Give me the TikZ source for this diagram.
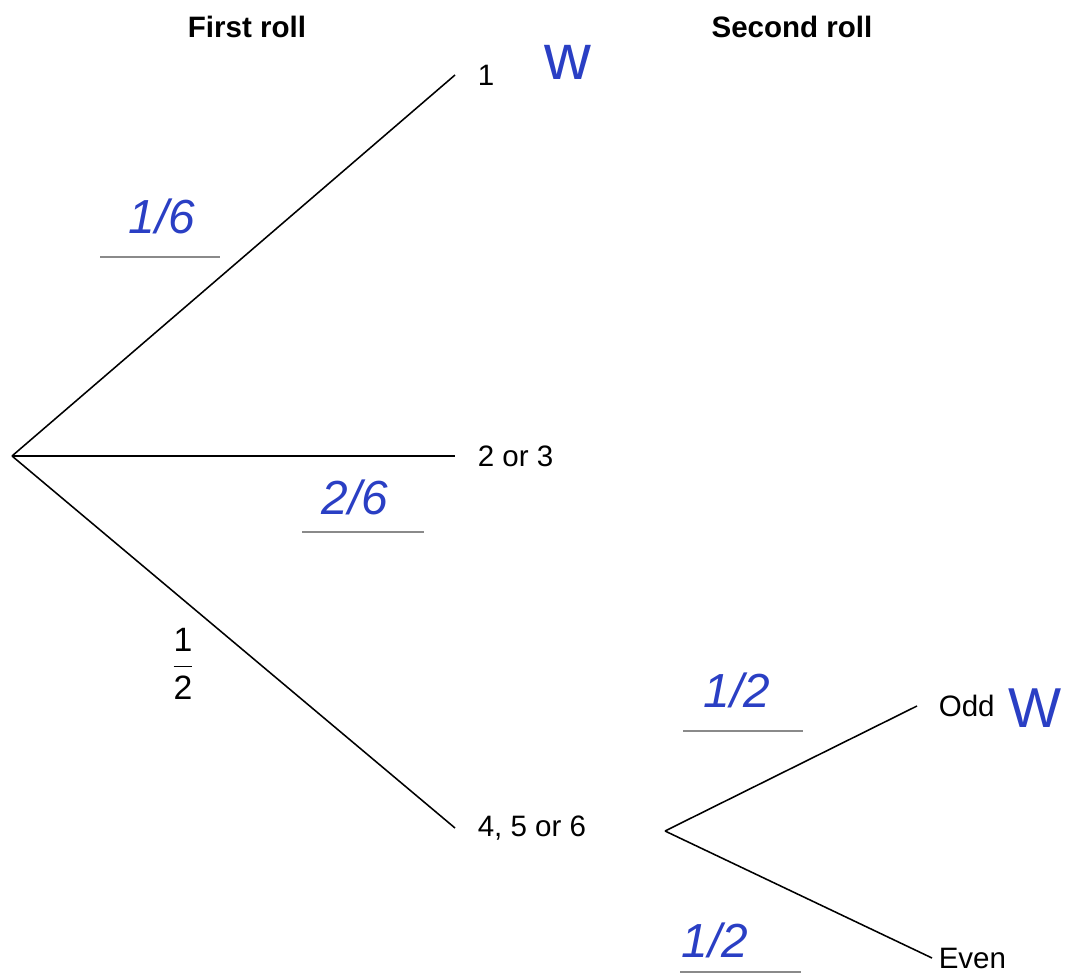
\documentclass[tikz,border=0pt]{standalone}
\usepackage{fontspec}
\setmainfont{Liberation Sans}
\usetikzlibrary{positioning}
\definecolor{pen}{HTML}{2A3FC4}
\definecolor{rule}{HTML}{8A8A8A}

\begin{document}
\begin{tikzpicture}[x=0.025cm,y=-0.025cm,line width=1.1pt,every node/.style={font=\fontsize{21}{25}\selectfont,inner sep=0pt},outcome/.style={anchor=west,xshift=22*0.025cm},head/.style={font=\fontsize{21}{25}\selectfont\bfseries},hand/.style={text=pen,font=\fontsize{34}{40}\selectfont\itshape},blank/.style={draw=rule,line width=0.8pt}]
\useasboundingbox (0,0) rectangle (1065,977);
% headings
\node[head] (first) at (247,27) {First roll};
\node[head] (second) at (792,27) {Second roll};
% first roll
\coordinate (root) at (12,456);
\coordinate (e1) at (455,75);
\coordinate (e2) at (455,456);
\coordinate (e3) at (455,828);
\node[outcome] (one) at (e1) {1};
\node[outcome] (twothree) at (e2) {2 or 3};
\node[outcome] (fourfivesix) at (e3) {4, 5 or 6};
\draw (root)--(e1);\draw (root)--(e2);\draw (root)--(e3);
\node[font=\fontsize{24}{28}\selectfont] (half) at (183,664) {\(\displaystyle\frac{\mbox{1}}{\mbox{2}}\)};
% second roll
\coordinate (root2) at (665,831);
\coordinate (e4) at (917,706);
\coordinate (e5) at (932,958);
\node[anchor=west] (odd) at (938,706) {Odd};
\node[anchor=west] (even) at (938,958) {Even};
\draw (root2)--(e4);\draw (root2)--(e5);
% answer blanks
\draw[blank] (100,257)--(220,257);
\draw[blank] (302,532)--(424,532);
\draw[blank] (683,731)--(803,731);
\draw[blank] (680,972)--(801,972);
% pen marks
\node[hand] (p1) at (162,216) {1/6};
\node[hand] (p2) at (355,497) {2/6};
\node[hand] (p3) at (737,690) {1/2};
\node[hand] (p4) at (715,940) {1/2};
\node[hand,font=\fontsize{46}{50}\selectfont] (w1) at (568,62) {w};
\node[hand,font=\fontsize{40}{46}\selectfont] (w2) at (1035,708) {W};
\end{tikzpicture}
\end{document}
